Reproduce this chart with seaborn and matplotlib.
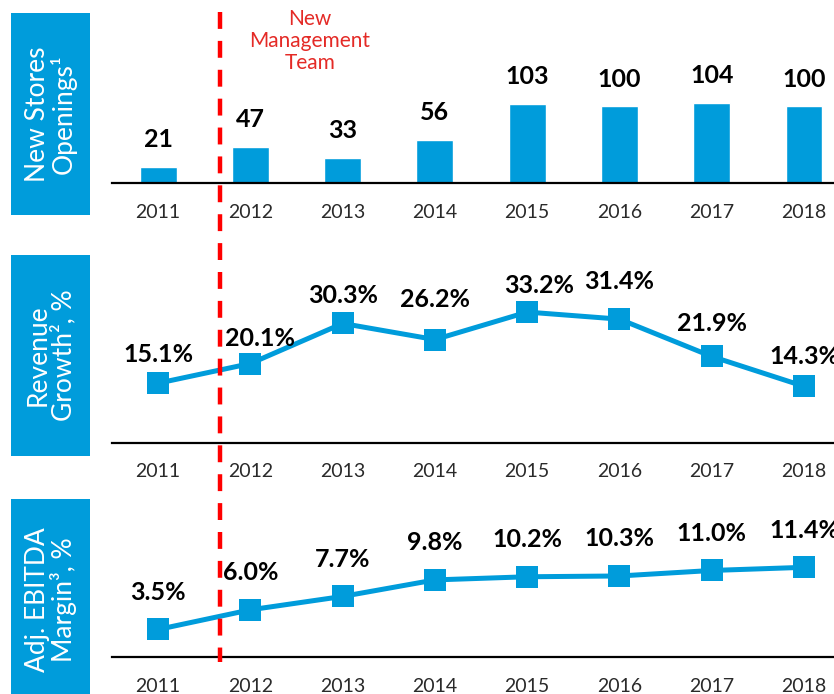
import matplotlib
matplotlib.use('Agg')
import matplotlib.pyplot as plt
from matplotlib.lines import Line2D
from matplotlib.patches import Rectangle
from matplotlib.transforms import blended_transform_factory
import seaborn as sns

years = ['2011', '2012', '2013', '2014', '2015', '2016', '2017', '2018']
new_stores = [21, 47, 33, 56, 103, 100, 104, 100]
revenue_growth = [15.1, 20.1, 30.3, 26.2, 33.2, 31.4, 21.9, 14.3]
ebitda_margin = [3.5, 6.0, 7.7, 9.8, 10.2, 10.3, 11.0, 11.4]

panel_titles = ['New Stores\nOpenings¹', 'Revenue\nGrowth², %', 'Adj. EBITDA\nMargin³, %']

# label offsets above the markers (px)
rev_offsets = [29, 25, 28, 40, 27, 38, 33, 30]
rev_dx = [0, 10, 0, 0, 12, 0, 0, 0]

BLUE = '#009CDB'
RED = '#FF0000'

sns.set_style('white')
plt.rcParams['font.family'] = ['Lato', 'DejaVu Sans']

W, H = 834, 694
fig = plt.figure(figsize=(W / 100, H / 100), dpi=100)


def px_axes(top, bottom):
    return fig.add_axes([112 / W, 1 - bottom / H, (834 - 112) / W, (bottom - top) / H])


def style_axis(ax, ymax):
    ax.set_xlim(-0.5, 7.325)
    ax.set_ylim(0, ymax)
    ax.set_yticks([])
    ax.set_xlabel('')
    ax.set_ylabel('')
    for s in ['top', 'right', 'left']:
        ax.spines[s].set_visible(False)
    ax.spines['bottom'].set_linewidth(1.6)
    ax.spines['bottom'].set_color('black')
    ax.tick_params(axis='x', length=0, pad=15, labelsize=14, labelcolor='#2a2a2a')
    ax.patch.set_alpha(0)


# --- stores bars
ax1 = px_axes(0, 183)
sns.barplot(x=years, y=new_stores, color=BLUE, width=0.4, saturation=1, ax=ax1)
style_axis(ax1, 238)
for i, v in enumerate(new_stores):
    ax1.annotate(str(v), (i, v), xytext=(0, 19.5), textcoords='offset points',
                 ha='center', va='center', fontsize=18, fontweight='bold', color='black')

# --- revenue growth line
ax2 = px_axes(250, 442.5)
sns.pointplot(x=years, y=revenue_growth, color=BLUE, marker='s', markersize=16.5,
              markeredgewidth=0, linewidth=3.6, errorbar=None, ax=ax2)
style_axis(ax2, 49)
for i, v in enumerate(revenue_growth):
    ax2.annotate(f'{v:.1f}%', (i, v), xytext=(rev_dx[i] * 0.72, rev_offsets[i] * 0.72),
                 textcoords='offset points', ha='center', va='center', color='black',
                 fontsize=18, fontweight='bold', annotation_clip=False)

# --- EBITDA margin line
ax3 = px_axes(480, 657)
sns.pointplot(x=years, y=ebitda_margin, color=BLUE, marker='s', markersize=16.5,
              markeredgewidth=0, linewidth=3.6, errorbar=None, ax=ax3)
style_axis(ax3, 22.5)
for i, v in enumerate(ebitda_margin):
    ax3.annotate(f'{v:.1f}%', (i, v), xytext=(0, 37 * 0.72), textcoords='offset points',
                 ha='center', va='center', fontsize=18, fontweight='bold', color='black',
                 annotation_clip=False)

# --- side boxes
for (top, bottom), title in zip([(13, 215), (255, 456), (499, 700)], panel_titles):
    fig.add_artist(Rectangle((11 / W, 1 - bottom / H), 79 / W, (bottom - top) / H,
                             transform=fig.transFigure, color=BLUE, lw=0))
    fig.text(51 / W, 1 - (top + bottom) / 2 / H, title, rotation=90, color='white',
             ha='center', va='center', fontsize=19, linespacing=1.0)

# --- management change marker
trans = blended_transform_factory(ax1.transData, fig.transFigure)
fig.add_artist(Line2D([0.672, 0.672], [1 - 12 / H, 1 - 662 / H], transform=trans,
                      color=RED, lw=3.2, linestyle=(0, (3.8, 2.7))))
fig.text(310 / W, 1 - 41 / H, 'New\nManagement\nTeam', color='#E42A26',
         ha='center', va='center', fontsize=15, linespacing=1.1)

fig.savefig('out.png', dpi=100)
